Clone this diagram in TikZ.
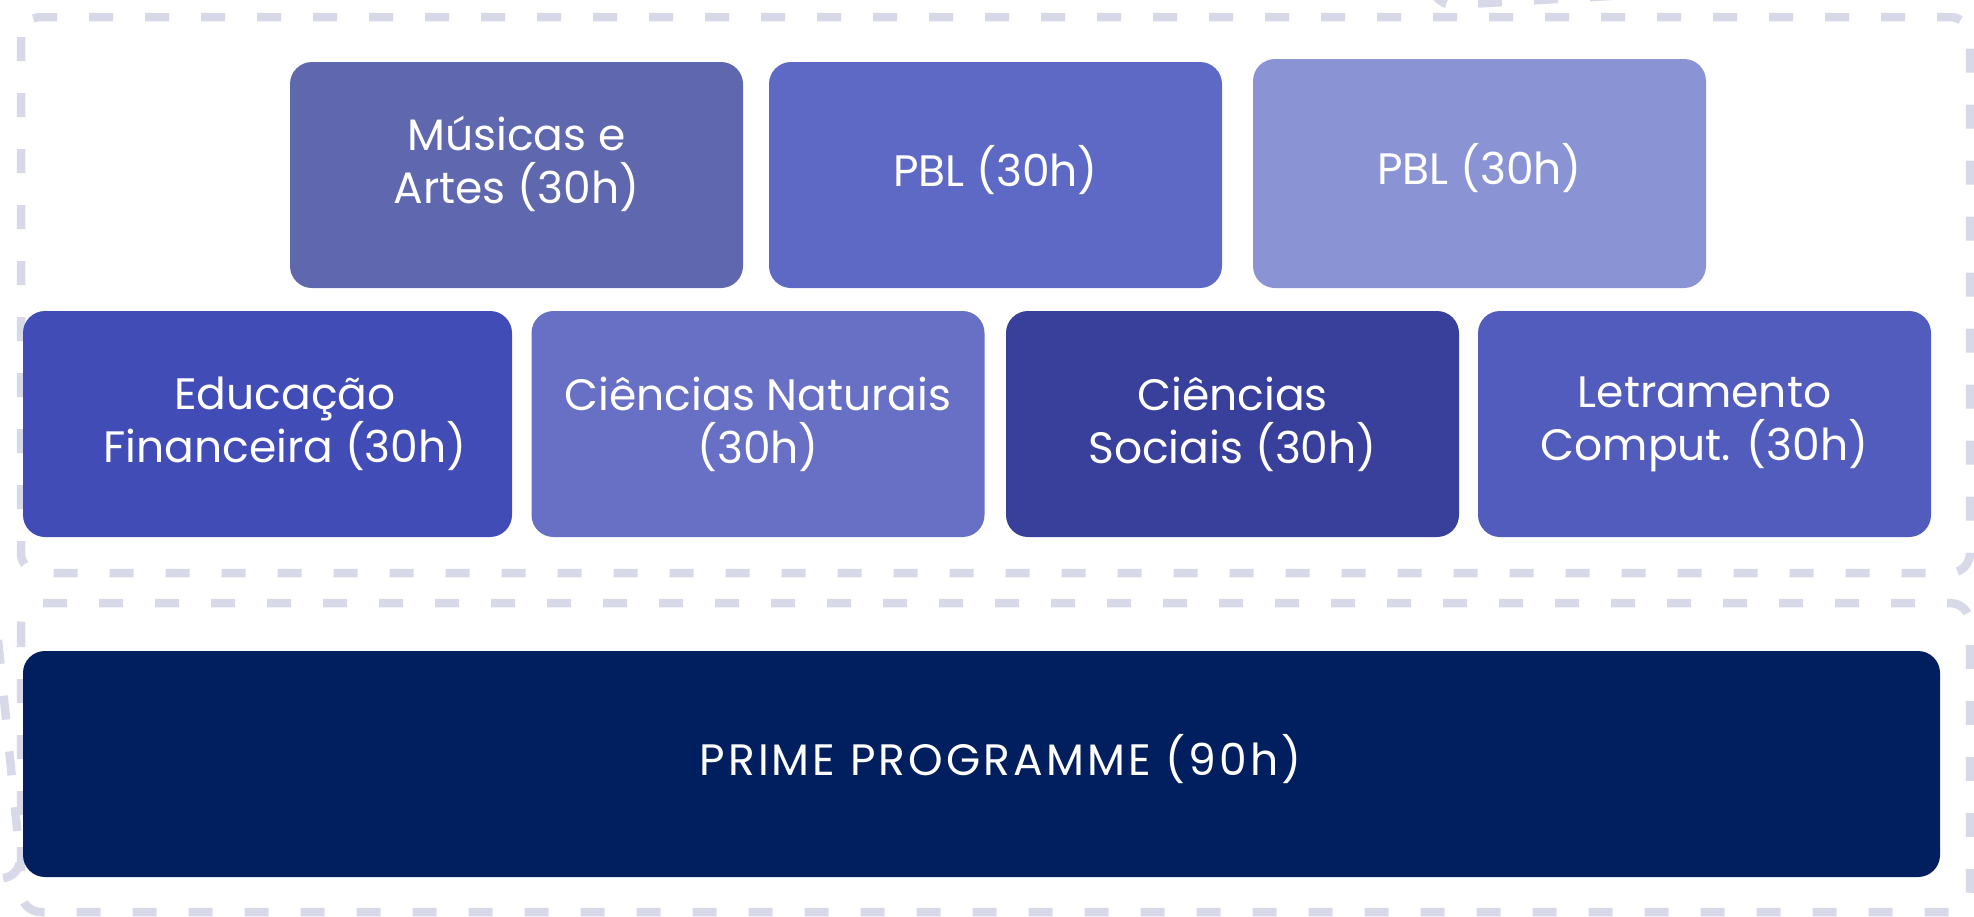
\documentclass[tikz,border=0pt]{standalone}
\usepackage{fontspec}
\setmainfont{Poppins}
\usepackage{xcolor}
\usepackage{tikz}
\usetikzlibrary{positioning}
\definecolor{frameline}{rgb}{0.847,0.851,0.910}
\definecolor{musica}{rgb}{0.373,0.404,0.686}
\definecolor{pblone}{rgb}{0.369,0.412,0.776}
\definecolor{pbltwo}{rgb}{0.541,0.576,0.831}
\definecolor{educa}{rgb}{0.259,0.298,0.714}
\definecolor{natur}{rgb}{0.404,0.439,0.769}
\definecolor{socia}{rgb}{0.224,0.251,0.608}
\definecolor{letra}{rgb}{0.322,0.361,0.737}
\definecolor{prime}{rgb}{0.004,0.122,0.369}

\begin{document}
\begin{tikzpicture}[x=0.5pt,y=-0.5pt,
	box/.style={rectangle,rounded corners=11pt,draw=none,text=white,align=center,
		minimum width=226.5pt,minimum height=113pt,inner sep=0pt},
	frame/.style={draw=frameline,line width=4.25pt,dash pattern=on 12pt off 16pt,rounded corners=10pt},
	font=\fontsize{22}{26.5}\selectfont]
  \useasboundingbox (0,0) rectangle (1974,916);
  % dashed frames
  \draw[frame] (21,17) rectangle (1970,573);
  \draw[frame] (21,603) rectangle (1970,912);
  \draw[frame] (1432,-14) -- (1434,6) -- (1680,-8);
  \draw[frame] (-2,640) -- (22,877) -- (-30,880);
  % upper row
  \node[box,fill=musica] (mus) at (516.5,175) {Músicas e\\Artes (30h)\\[-11pt]};
  \node[box,fill=pblone] (pblA) at (995.5,175) {\raisebox{2.5pt}[\height][\depth]{PBL (30h)}};
  \node[box,fill=pbltwo,minimum height=114.5pt] (pblB) at (1479.5,173.5)
    {\raisebox{2.5pt}[\height][\depth]{PBL (30h)}};
  % middle row
  \node[box,fill=educa,minimum width=244.5pt] (edu) at (267.5,424)
    {\hspace*{17.5pt}Educação\\\hspace*{17.5pt}Financeira (30h)};
  \node[box,fill=natur] (natu) at (758,424) {Ciências Naturais\\(30h)};
  \node[box,fill=socia] (soci) at (1232.5,424) {Ciências\\Sociais (30h)};
  \node[box,fill=letra] (letr) at (1704.5,424) {Letramento\\Comput. (30h)};
  % base
  \node[box,fill=prime,minimum width=958.5pt] (prog) at (981.5,764)
    {\hspace*{19pt}\raisebox{2.5pt}[\height][\depth]{\addfontfeature{LetterSpace=7}PRIME PROGRAMME (90h)}};
\end{tikzpicture}
\end{document}
